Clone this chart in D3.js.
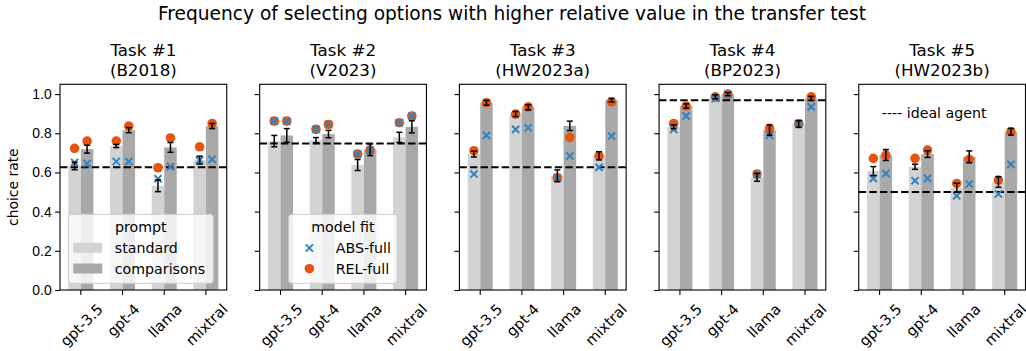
<!DOCTYPE html>
<html lang="en">
<head>
  <meta charset="UTF-8">
  <title>Transfer test choice rates</title>
  <style>
    body {
      margin: 0;
      background: white;
    }

    svg {
      display: block;
      font-family: "DejaVu Sans", sans-serif;
    }
  </style>
</head>
<body>
  <svg width="1026" height="351"></svg>

  <script src="https://d3js.org/d3.v7.min.js"></script>
  <script>
    const width = 1026;
    const height = 351;

    const models = ["gpt-3.5", "gpt-4", "llama", "mixtral"];
    const tasks = ["Task #1", "Task #2", "Task #3", "Task #4", "Task #5"];
    const taskRefs = ["(B2018)", "(V2023)", "(HW2023a)", "(BP2023)", "(HW2023b)"];
    const prompts = ["standard", "comparisons"];
    const yTicks = [0, 0.2, 0.4, 0.6, 0.8, 1.0];

    // observed choice rate, one row per task, one value per model
    const standardRate = [
      [0.633, 0.735, 0.532, 0.663],
      [0.760, 0.765, 0.638, 0.779],
      [0.694, 0.898, 0.583, 0.685],
      [0.833, 0.986, 0.575, 0.847],
      [0.607, 0.629, 0.522, 0.551]
    ];
    const standardErr = [
      [0.019, 0.008, 0.030, 0.020],
      [0.029, 0.013, 0.028, 0.026],
      [0.015, 0.013, 0.030, 0.021],
      [0.010, 0.010, 0.020, 0.017],
      [0.023, 0.013, 0.023, 0.027]
    ];
    const comparisonsRate = [
      [0.719, 0.816, 0.728, 0.837],
      [0.789, 0.796, 0.716, 0.833],
      [0.956, 0.932, 0.838, 0.969],
      [0.939, 1.000, 0.816, 0.978],
      [0.689, 0.694, 0.680, 0.808]
    ];
    const comparisonsErr = [
      [0.020, 0.013, 0.025, 0.013],
      [0.035, 0.019, 0.030, 0.031],
      [0.012, 0.013, 0.024, 0.009],
      [0.011, 0.008, 0.026, 0.010],
      [0.028, 0.017, 0.030, 0.017]
    ];

    // model fit predictions
    const absStandard = [
      [0.651, 0.656, 0.568, 0.663],
      [0.862, 0.820, 0.694, 0.854],
      [0.592, 0.820, 0.573, 0.626],
      [0.820, 0.978, 0.590, 0.850],
      [0.570, 0.558, 0.481, 0.490]
    ];
    const absComparisons = [
      [0.646, 0.656, 0.630, 0.667],
      [0.862, 0.845, 0.714, 0.888],
      [0.789, 0.828, 0.684, 0.786],
      [0.889, 1.000, 0.790, 0.935],
      [0.595, 0.570, 0.541, 0.641]
    ];
    const relStandard = [
      [0.723, 0.760, 0.624, 0.731],
      [0.862, 0.820, 0.694, 0.854],
      [0.711, 0.898, 0.573, 0.685],
      [0.850, 0.986, 0.592, 0.850],
      [0.672, 0.672, 0.544, 0.561]
    ];
    const relComparisons = [
      [0.760, 0.837, 0.776, 0.850],
      [0.862, 0.845, 0.714, 0.888],
      [0.956, 0.935, 0.779, 0.960],
      [0.939, 1.000, 0.825, 0.986],
      [0.689, 0.714, 0.667, 0.808]
    ];

    const idealAgent = [0.626, 0.748, 0.626, 0.969, 0.500];

    const barColor = { standard: "#d3d3d3", comparisons: "#a9a9a9" };
    const absColor = "#3182bd";
    const relColor = "#e6550d";

    const svg = d3.select("svg");

    const plotTop = 84.3, plotBottom = 290;

    const panelX = d3.scaleBand()
      .domain(tasks)
      .range([60, 1025.5])
      .paddingInner(0.165)
      .paddingOuter(0);
    const pw = panelX.bandwidth();

    const x = d3.scaleBand().domain(models).range([0, pw]);
    const bw = x.bandwidth();
    const hue = d3.scaleBand().domain(prompts).range([-0.3 * bw, 0.3 * bw]);
    const y = d3.scaleLinear().domain([0, 1.05]).range([plotBottom, plotTop]);

    svg.append("text")
      .attr("x", 512)
      .attr("y", 20)
      .attr("text-anchor", "middle")
      .style("font-size", "18.6px")
      .text("Frequency of selecting options with higher relative value in the transfer test");

    // x marker as path
    const cross = (s) => `M${-s},${-s}L${s},${s}M${-s},${s}L${s},${-s}`;

    tasks.forEach((task, t) => {
      const g = svg.append("g")
        .attr("transform", "translate(" + panelX(task) + ",0)");

      const rows = models.map((m, i) => ({
        model: m,
        vals: [
          { p: "standard", rate: standardRate[t][i], err: standardErr[t][i], abs: absStandard[t][i], rel: relStandard[t][i] },
          { p: "comparisons", rate: comparisonsRate[t][i], err: comparisonsErr[t][i], abs: absComparisons[t][i], rel: relComparisons[t][i] }
        ]
      }));
      const flat = rows.flatMap(r => r.vals.map(v => Object.assign({ model: r.model }, v)));
      const cx = (d) => x(d.model) + bw / 2 + hue(d.p) + hue.bandwidth() / 2;

      g.selectAll("rect.bar")
        .data(flat)
        .enter()
        .append("rect")
        .attr("class", "bar")
        .attr("x", d => x(d.model) + bw / 2 + hue(d.p))
        .attr("width", hue.bandwidth())
        .attr("y", d => y(d.rate))
        .attr("height", d => y(0) - y(d.rate))
        .attr("fill", d => barColor[d.p]);

      g.append("line")
        .attr("x1", 0).attr("x2", pw)
        .attr("y1", y(idealAgent[t])).attr("y2", y(idealAgent[t]))
        .attr("stroke", "black")
        .attr("stroke-width", 2)
        .attr("stroke-dasharray", "7.4,3.2");

      g.selectAll("circle.rel")
        .data(flat)
        .enter()
        .append("circle")
        .attr("class", "rel")
        .attr("cx", cx)
        .attr("cy", d => y(d.rel))
        .attr("r", 4.8)
        .attr("fill", relColor);

      g.selectAll("path.abs")
        .data(flat)
        .enter()
        .append("path")
        .attr("class", "abs")
        .attr("transform", d => "translate(" + cx(d) + "," + y(d.abs) + ")")
        .attr("d", cross(3.6))
        .attr("stroke", absColor)
        .attr("stroke-width", 2)
        .attr("fill", "none");

      const eb = g.selectAll("g.err")
        .data(flat)
        .enter()
        .append("g")
        .attr("class", "err")
        .attr("stroke", "black")
        .attr("stroke-width", 1.5);
      eb.append("line")
        .attr("x1", cx).attr("x2", cx)
        .attr("y1", d => y(d.rate - d.err)).attr("y2", d => y(d.rate + d.err));
      eb.append("line")
        .attr("x1", d => cx(d) - 3).attr("x2", d => cx(d) + 3)
        .attr("y1", d => y(d.rate - d.err)).attr("y2", d => y(d.rate - d.err));
      eb.append("line")
        .attr("x1", d => cx(d) - 3).attr("x2", d => cx(d) + 3)
        .attr("y1", d => y(d.rate + d.err)).attr("y2", d => y(d.rate + d.err));

      // frame
      g.append("rect")
        .attr("x", 0).attr("y", plotTop)
        .attr("width", pw).attr("height", plotBottom - plotTop)
        .attr("fill", "none")
        .attr("stroke", "black")
        .attr("stroke-width", 1.1);

      // y axis
      const yAxis = d3.axisLeft(y).tickValues(yTicks).tickSize(4.9).tickPadding(3.5)
        .tickFormat(t === 0 ? d3.format(".1f") : () => "");
      const ya = g.append("g").call(yAxis);
      ya.select(".domain").remove();
      ya.selectAll("line").attr("stroke-width", 1.1);
      ya.selectAll("text").style("font-size", "13.9px").attr("fill", "black");

      // x axis with rotated labels
      const xa = g.append("g")
        .attr("transform", "translate(0," + plotBottom + ")")
        .call(d3.axisBottom(x).tickSize(4.9).tickFormat(""));
      xa.select(".domain").remove();
      xa.selectAll("line").attr("stroke-width", 1.1);

      models.forEach(m => {
        const lbl = g.append("text")
          .style("font-size", "14.6px")
          .attr("text-anchor", "middle")
          .attr("dominant-baseline", "central")
          .text(m);
        const w = lbl.node().getComputedTextLength();
        const h = 14.6 * 1.1;
        const H = (w + h) * Math.SQRT1_2;
        lbl.attr("transform", "translate(" + (x(m) + bw / 2 + 0.5) + "," + (plotBottom + 10.5 + H / 2) + ") rotate(-45)");
      });

      // titles
      g.append("text")
        .attr("x", pw / 2).attr("y", 55.7)
        .attr("text-anchor", "middle")
        .style("font-size", "16.7px")
        .text(task);
      g.append("text")
        .attr("x", pw / 2).attr("y", 75.7)
        .attr("text-anchor", "middle")
        .style("font-size", "16.7px")
        .text(taskRefs[t]);

      if (t === 0) {
        svg.append("text")
          .attr("transform", "translate(18," + ((plotTop + plotBottom) / 2) + ") rotate(-90)")
          .attr("text-anchor", "middle")
          .style("font-size", "13.9px")
          .text("choice rate");

        const lg = g.append("g").attr("transform", "translate(8.3,214.3)");
        lg.append("rect")
          .attr("width", 145).attr("height", 69)
          .attr("rx", 3)
          .attr("fill", "white").attr("fill-opacity", 0.8)
          .attr("stroke", "#cccccc");
        lg.append("text")
          .attr("x", 72.5).attr("y", 17.5)
          .attr("text-anchor", "middle")
          .style("font-size", "14.2px")
          .text("prompt");
        prompts.forEach((p, i) => {
          lg.append("rect")
            .attr("x", 5).attr("y", 28.5 + i * 20.7)
            .attr("width", 29).attr("height", 10)
            .attr("fill", barColor[p]);
          lg.append("text")
            .attr("x", 46.5).attr("y", 38.7 + i * 20.7)
            .style("font-size", "14.2px")
            .text(p);
        });
      }

      if (t === 1) {
        const lg = g.append("g").attr("transform", "translate(29,214.3)");
        lg.append("rect")
          .attr("width", 108.4).attr("height", 69)
          .attr("rx", 3)
          .attr("fill", "white").attr("fill-opacity", 0.8)
          .attr("stroke", "#cccccc");
        lg.append("text")
          .attr("x", 54.2).attr("y", 17.5)
          .attr("text-anchor", "middle")
          .style("font-size", "14.2px")
          .text("model fit");
        lg.append("path")
          .attr("transform", "translate(20.7,33.7)")
          .attr("d", cross(3.6))
          .attr("stroke", absColor).attr("stroke-width", 2).attr("fill", "none");
        lg.append("circle")
          .attr("cx", 20.7).attr("cy", 54.4).attr("r", 4.8)
          .attr("fill", relColor);
        lg.append("text")
          .attr("x", 47).attr("y", 38.7)
          .style("font-size", "14.2px")
          .text("ABS-full");
        lg.append("text")
          .attr("x", 47).attr("y", 59.4)
          .style("font-size", "14.2px")
          .text("REL-full");
      }

      if (t === 4) {
        g.append("text")
          .attr("x", 23).attr("y", 118)
          .style("font-size", "14.2px")
          .text("---- ideal agent");
      }
    });
  </script>
</body>
</html>
